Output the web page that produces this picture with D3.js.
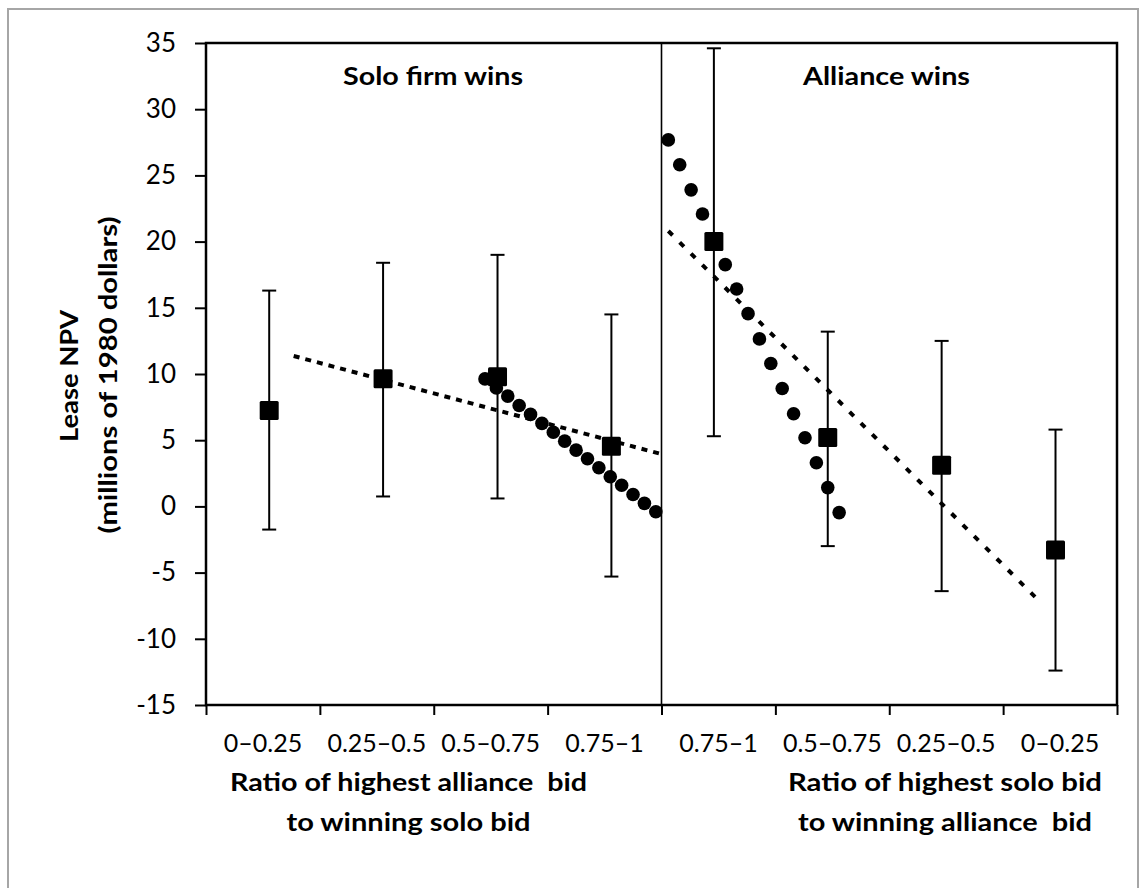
<!DOCTYPE html>
<html>
<head>
<meta charset="utf-8">
<script src="https://cdn.jsdelivr.net/npm/d3@7"></script>
<style>
  body { margin: 0; background: #fff; }
  text { font-family: Lato, "Open Sans", sans-serif; fill: #000; white-space: pre; }
</style>
</head>
<body>
<div id="chart"></div>
<script>
// ---- data ----
const categories = ["0–0.25", "0.25–0.5", "0.5–0.75", "0.75–1", "0.75–1", "0.5–0.75", "0.25–0.5", "0–0.25"];
const yTicks = [-15, -10, -5, 0, 5, 10, 15, 20, 25, 30, 35];

// binned means (squares) with error bars
const binX    = [0.555, 1.555, 2.56, 3.56, 4.46, 5.46, 6.46, 7.46];
const binMean = [7.25, 9.65, 9.8, 4.55, 20.0, 5.2, 3.1, -3.3];
const binHigh = [16.3, 18.4, 19.0, 14.5, 34.6, 13.2, 12.5, 5.8];
const binLow  = [-1.75, 0.75, 0.6, -5.3, 5.3, -3.0, -6.4, -12.4];

// fitted values (circles)
const soloFitX = [2.45, 2.55, 2.65, 2.75, 2.85, 2.95, 3.05, 3.15, 3.25, 3.35, 3.45, 3.55, 3.65, 3.75, 3.85, 3.95];
const soloFitY = [9.63, 8.95, 8.33, 7.62, 6.95, 6.27, 5.6, 4.93, 4.25, 3.6, 2.92, 2.24, 1.6, 0.9, 0.23, -0.4];
const allianceFitX = [4.06, 4.16, 4.26, 4.36, 4.46, 4.56, 4.66, 4.76, 4.86, 4.96, 5.06, 5.16, 5.26, 5.36, 5.46, 5.56];
const allianceFitY = [27.68, 25.8, 23.91, 22.08, 20.2, 18.26, 16.42, 14.56, 12.65, 10.79, 8.9, 7.0, 5.19, 3.3, 1.42, -0.47];

// linear trends (dotted)
const soloTrendX = [0.77, 4.0];
const soloTrendY = [11.36, 3.95];
const allianceTrendX = [4.06, 7.3];
const allianceTrendY = [20.8, -7.0];

// ---- chart ----
const W = 1146, H = 888;
const svg = d3.select("#chart").append("svg")
    .attr("width", W)
    .attr("height", H);

const x = d3.scaleLinear().domain([0, 8]).range([206, 1117]);
const y = d3.scaleLinear().domain([-15, 35]).range([705, 43]);

// outer frame
svg.append("rect")
    .attr("x", 8).attr("y", 9)
    .attr("width", 1130).attr("height", 900)
    .attr("fill", "none")
    .attr("stroke", "#a6a6a6")
    .attr("stroke-width", 2);

// y axis ticks + labels (plain hyphen minus like the original)
const yAxis = svg.append("g")
    .attr("transform", `translate(${x(0)},0)`)
    .call(d3.axisLeft(y).tickValues(yTicks).tickSize(11).tickPadding(19).tickFormat(d => String(d)));
yAxis.select(".domain").remove();
yAxis.selectAll("line").attr("stroke", "#000").attr("stroke-width", 2);
yAxis.selectAll("text")
    .attr("font-size", 26)
    .style("font-family", "Lato, sans-serif");

// x axis ticks at bin boundaries
const xAxis = svg.append("g")
    .attr("transform", `translate(0,${y(-15)})`)
    .call(d3.axisBottom(x).tickValues(d3.range(0, 9)).tickSize(10).tickFormat(""));
xAxis.select(".domain").remove();
xAxis.selectAll("line").attr("stroke", "#000").attr("stroke-width", 2);

// category labels
svg.append("g").selectAll("text")
    .data(categories)
    .enter().append("text")
    .attr("x", (d, i) => x(i + 0.5))
    .attr("y", 752)
    .attr("text-anchor", "middle")
    .attr("font-size", 25)
    .text(d => d);

// plot box
svg.append("rect")
    .attr("x", x(0)).attr("y", y(35))
    .attr("width", x(8) - x(0)).attr("height", y(-15) - y(35))
    .attr("fill", "none")
    .attr("stroke", "#000")
    .attr("stroke-width", 2.5);

// divider between panels
svg.append("line")
    .attr("x1", x(4)).attr("x2", x(4))
    .attr("y1", y(35)).attr("y2", y(-15))
    .attr("stroke", "#000")
    .attr("stroke-width", 1.6);

// error bars
const bars = svg.append("g").selectAll("g")
    .data(binX.map((d, i) => ({ x: d, m: binMean[i], hi: binHigh[i], lo: binLow[i] })))
    .enter().append("g")
    .attr("stroke", "#000")
    .attr("stroke-width", 2);
bars.append("line")
    .attr("x1", d => x(d.x)).attr("x2", d => x(d.x))
    .attr("y1", d => y(d.hi)).attr("y2", d => y(d.lo));
bars.append("line")
    .attr("x1", d => x(d.x) - 7).attr("x2", d => x(d.x) + 7)
    .attr("y1", d => y(d.hi)).attr("y2", d => y(d.hi));
bars.append("line")
    .attr("x1", d => x(d.x) - 7).attr("x2", d => x(d.x) + 7)
    .attr("y1", d => y(d.lo)).attr("y2", d => y(d.lo));

// dotted trends
const line = d3.line().x(d => x(d[0])).y(d => y(d[1]));
svg.append("path")
    .datum(d3.zip(soloTrendX, soloTrendY))
    .attr("d", line)
    .attr("fill", "none")
    .attr("stroke", "#000")
    .attr("stroke-width", 4)
    .attr("stroke-dasharray", "6,6");
svg.append("path")
    .datum(d3.zip(allianceTrendX, allianceTrendY))
    .attr("d", line)
    .attr("fill", "none")
    .attr("stroke", "#000")
    .attr("stroke-width", 4)
    .attr("stroke-dasharray", "6,10");

// fitted circles
const fits = d3.zip(soloFitX, soloFitY).concat(d3.zip(allianceFitX, allianceFitY));
svg.append("g").selectAll("circle")
    .data(fits)
    .enter().append("circle")
    .attr("cx", d => x(d[0]))
    .attr("cy", d => y(d[1]))
    .attr("r", 6.8)
    .attr("fill", "#000");

// squares
svg.append("g").selectAll("rect")
    .data(binX.map((d, i) => [d, binMean[i]]))
    .enter().append("rect")
    .attr("x", d => x(d[0]) - 9.5)
    .attr("y", d => y(d[1]) - 9.5)
    .attr("width", 19).attr("height", 19)
    .attr("rx", 1.5)
    .attr("fill", "#000");

// titles
function bold(txt, cx, cy, len, rot) {
    const t = svg.append("text")
        .attr("text-anchor", "middle")
        .attr("font-size", 25)
        .attr("font-weight", "bold")
        .attr("textLength", len)
        .attr("lengthAdjust", "spacingAndGlyphs")
        .text(txt);
    if (rot) t.attr("transform", `translate(${cx},${cy}) rotate(-90)`);
    else t.attr("x", cx).attr("y", cy);
    return t;
}

bold("Solo firm wins", 433, 85, 180);
bold("Alliance wins", 886.5, 85, 167);

bold("Ratio of highest alliance  bid", 408.5, 791, 357);
bold("to winning solo bid", 408.5, 831, 244);
bold("Ratio of highest solo bid", 945, 791, 314);
bold("to winning alliance  bid", 945, 831, 294);

bold("Lease NPV", 78, 376, 132, true);
bold("(millions of 1980 dollars)", 117, 375, 317, true);
</script>
</body>
</html>
